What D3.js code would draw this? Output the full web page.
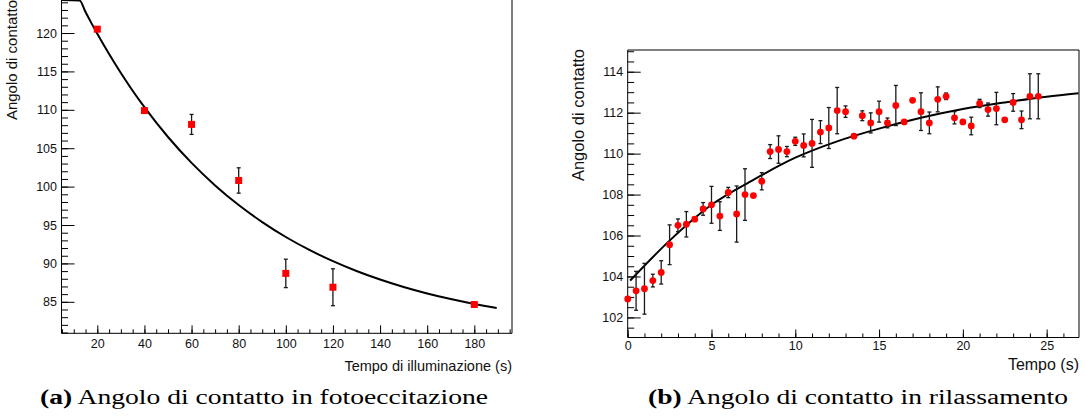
<!DOCTYPE html>
<html>
<head>
<meta charset="utf-8">
<script src="https://cdn.jsdelivr.net/npm/d3@7"></script>
<style>
  body { margin:0; background:#fff; }
  svg { display:block; }
  .tick text { font-family:"Liberation Sans", Arial, sans-serif; font-size:12.5px; fill:#111; }
  .tick line { stroke:#000; stroke-width:1px; }
  .title { font-family:"Liberation Sans", Arial, sans-serif; fill:#111; }
  .caption { font-family:"Liberation Serif", "DejaVu Serif", serif; font-size:20.5px; fill:#000; }
  .frame { fill:none; stroke:#000; stroke-width:1px; }
  .fit { fill:none; stroke:#000; stroke-width:2px; }
  .err { stroke:#1a1a1a; stroke-width:1.3px; }
</style>
</head>
<body>
<svg id="chart" width="1085" height="419"></svg>
<script>
// (a) fotoeccitazione
var fotoTempo = [20, 40, 60, 80, 100, 120, 180];
var fotoAngolo = [120.5, 109.9, 108.1, 100.8, 88.7, 86.9, 84.65];
var fotoErr = [0.1, 0.25, 1.3, 1.65, 1.85, 2.4, 0.1];
// fit curve (first point sits above the frame, clamped)
var fitFotoT = [4.8, 12.5, 15, 17.5, 20, 25, 30, 35, 40, 50, 60, 70, 80, 90, 100, 110, 120, 130, 140, 150, 160, 170, 180, 189.5];
var fitFotoA = [129.2, 124.23, 122.74, 121.29, 119.9, 117.26, 114.79, 112.49, 110.34, 106.46, 103.09, 100.16, 97.6, 95.38, 93.44, 91.76, 90.29, 89.01, 87.9, 86.93, 86.09, 85.36, 84.72, 84.19];
var fotoXTicks = [20, 40, 60, 80, 100, 120, 140, 160, 180];
var fotoYTicks = [85, 90, 95, 100, 105, 110, 115, 120];

// (b) rilassamento
var rilTempo = [0, 0.5, 1, 1.5, 2, 2.5, 3, 3.5, 4, 4.5, 5, 5.5, 6, 6.5, 7, 7.5, 8, 8.5, 9, 9.5,
  10, 10.5, 11, 11.5, 12, 12.5, 13, 13.5, 14, 14.5, 15, 15.5, 16, 16.5, 17, 17.5, 18, 18.5, 19, 19.5,
  20, 20.5, 21, 21.5, 22, 22.5, 23, 23.5, 24, 24.5];
var rilAngolo = [102.9, 103.3, 103.4, 103.8, 104.2, 105.55, 106.5, 106.55, 106.8, 107.3, 107.5, 106.95, 108.1, 107.05, 108.0, 107.95, 108.65, 110.1, 110.2, 110.1,
  110.6, 110.4, 110.5, 111.05, 111.25, 112.1, 112.05, 110.85, 111.85, 111.5, 112.05, 111.5, 112.35, 111.55, 112.6, 112.05, 111.5, 112.65, 112.8, 111.75,
  111.55, 111.35, 112.45, 112.15, 112.2, 111.65, 112.5, 111.65, 112.8, 112.8];
var rilErr = [0, 0.95, 1.24, 0.31, 0.57, 0.97, 0.31, 0.62, 0, 0.31, 0.9, 0.7, 0.25, 1.37, 1.26, 0, 0.42, 0.34, 0.67, 0.25,
  0.2, 0.56, 1.17, 0.56, 1.0, 1.13, 0.28, 0, 0.24, 0.49, 0.51, 0.24, 0.98, 0, 0, 0.92, 0.53, 0.61, 0.16, 0.3,
  0, 0.43, 0.2, 0.32, 0.79, 0, 0.43, 0.43, 1.1, 1.1];
var fitRilT = [0.15, 2.5, 5, 7.5, 10, 12.5, 15, 17.5, 20, 22.5, 25, 26.9];
var fitRilA = [103.8, 105.75, 107.5, 108.72, 109.8, 110.6, 111.22, 111.75, 112.18, 112.5, 112.78, 112.95];
var rilXTicks = [0, 5, 10, 15, 20, 25];
var rilYTicks = [102, 104, 106, 108, 110, 112, 114];

var svg = d3.select("#chart");

function drawPanel(opt){
  var g = svg.append("g");
  var x = d3.scaleLinear().domain(opt.xDomain).range([opt.left, opt.right]);
  var y = d3.scaleLinear().domain(opt.yDomain).range([opt.bottom, opt.top]).clamp(true);

  // minor ticks
  g.append("g")
    .attr("transform","translate(0,"+opt.bottom+")")
    .call(d3.axisBottom(x).tickValues(opt.xMinor).tickSize(-4).tickFormat(""))
    .call(s=>s.select(".domain").remove());
  g.append("g")
    .attr("transform","translate("+opt.left+",0)")
    .call(d3.axisLeft(y).tickValues(opt.yMinor).tickSize(-6.5).tickFormat(""))
    .call(s=>s.select(".domain").remove());

  // major ticks + labels
  g.append("g")
    .attr("transform","translate(0,"+opt.bottom+")")
    .call(d3.axisBottom(x).tickValues(opt.xTicks).tickSize(-8).tickPadding(opt.xPad))
    .call(s=>s.select(".domain").remove());
  g.append("g")
    .attr("transform","translate("+opt.left+",0)")
    .call(d3.axisLeft(y).tickValues(opt.yTicks).tickSize(-13).tickPadding(4.5))
    .call(s=>s.select(".domain").remove());

  // frame
  var fx0 = opt.left, fx1 = opt.right, fy0 = opt.top, fy1 = opt.bottom;
  g.append("path")
    .attr("d", opt.noTop
      ? "M"+fx0+","+fy0+"V"+fy1+"H"+fx1+"V"+fy0
      : "M"+fx0+","+fy0+"V"+fy1+"H"+fx1+"V"+fy0+"Z")
    .classed("frame",true);

  // fit
  var line = d3.line()
    .x(d=>x(d[0]))
    .y(d=>y(d[1]))
    .curve(d3.curveMonotoneX);
  g.append("path")
    .attr("d", line(d3.zip(opt.fitX, opt.fitY)))
    .classed("fit",true);

  var pts = d3.zip(opt.xs, opt.ys, opt.errs);

  // error bars
  var eb = g.selectAll(".eb").data(pts.filter(d=>d[2] > 0)).enter().append("g").classed("eb",true);
  eb.append("line")
    .attr("x1",d=>x(d[0])).attr("x2",d=>x(d[0]))
    .attr("y1",d=>y(d[1]+d[2])).attr("y2",d=>y(d[1]-d[2]))
    .classed("err",true);
  eb.append("line")
    .attr("x1",d=>x(d[0])-2).attr("x2",d=>x(d[0])+2)
    .attr("y1",d=>y(d[1]+d[2])).attr("y2",d=>y(d[1]+d[2]))
    .classed("err",true);
  eb.append("line")
    .attr("x1",d=>x(d[0])-2).attr("x2",d=>x(d[0])+2)
    .attr("y1",d=>y(d[1]-d[2])).attr("y2",d=>y(d[1]-d[2]))
    .classed("err",true);

  // markers
  if(opt.square){
    g.selectAll(".mk").data(pts).enter().append("rect")
      .attr("x",d=>x(d[0])-3.5)
      .attr("y",d=>y(d[1])-3.5)
      .attr("width",7)
      .attr("height",7)
      .attr("fill","#ff0000");
  } else {
    g.selectAll(".mk").data(pts).enter().append("circle")
      .attr("cx",d=>x(d[0]))
      .attr("cy",d=>y(d[1]))
      .attr("r",3.4)
      .attr("fill","#ff0000");
  }

  // axis titles
  g.append("text")
    .attr("x",opt.right)
    .attr("y",opt.xTitleY)
    .attr("text-anchor","end")
    .style("font-size",opt.titleSize+"px")
    .classed("title",true)
    .text(opt.xTitle);
  g.append("text")
    .attr("transform","translate("+opt.yTitleX+","+opt.yTitleTop+") rotate(-90)")
    .attr("text-anchor","end")
    .style("font-size",opt.yTitleSize+"px")
    .classed("title",true)
    .text(opt.yTitle);

  // caption
  var cap = g.append("text")
    .attr("x",opt.capX)
    .attr("y",404)
    .attr("textLength",opt.capW)
    .attr("lengthAdjust","spacingAndGlyphs")
    .classed("caption",true);
  cap.append("tspan").style("font-weight","bold").text(opt.capLabel);
  cap.append("tspan").text(" " + opt.capText);
}

drawPanel({
  xDomain:[4.8, 196], yDomain:[80.9, 124.3],
  left:61.5, right:512, top:0, bottom:333.3, noTop:true,
  xTicks:fotoXTicks, yTicks:fotoYTicks,
  xMinor:d3.range(5, 196, 5), yMinor:d3.range(81, 125, 1),
  xPad:6,
  fitX:fitFotoT, fitY:fitFotoA,
  xs:fotoTempo, ys:fotoAngolo, errs:fotoErr, square:true,
  xTitle:"Tempo di illuminazione (s)", xTitleY:371, titleSize:14.5,
  yTitle:"Angolo di contatto", yTitleX:17, yTitleTop:0, yTitleSize:15,
  capX:40, capW:448, capLabel:"(a)", capText:"Angolo di contatto in fotoeccitazione"
});

drawPanel({
  xDomain:[0, 26.93], yDomain:[101.02, 115.06],
  left:627.7, right:1079, top:50, bottom:337.5, noTop:false,
  xTicks:rilXTicks, yTicks:rilYTicks,
  xMinor:d3.range(0, 27, 1), yMinor:d3.range(101.5, 115.1, 0.5),
  xPad:4,
  fitX:fitRilT, fitY:fitRilA,
  xs:rilTempo, ys:rilAngolo, errs:rilErr, square:false,
  xTitle:"Tempo (s)", xTitleY:370, titleSize:16,
  yTitle:"Angolo di contatto", yTitleX:584, yTitleTop:49, yTitleSize:16.5,
  capX:648, capW:420, capLabel:"(b)", capText:"Angolo di contatto in rilassamento"
});
</script>
</body>
</html>
